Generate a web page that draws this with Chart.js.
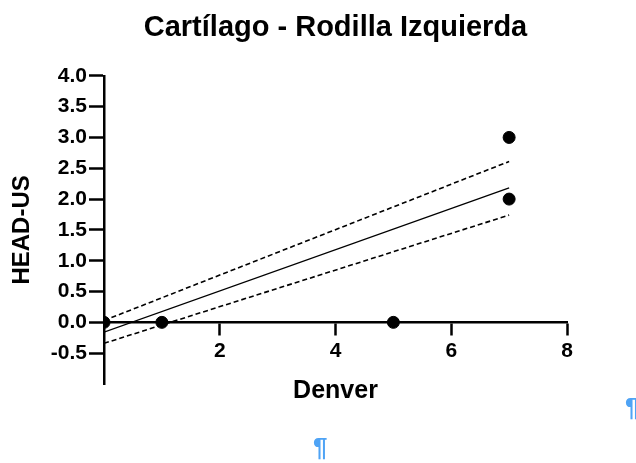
<!DOCTYPE html>
<html>
<head>
<meta charset="utf-8">
<script src="https://cdn.jsdelivr.net/npm/chart.js@4.4.1/dist/chart.umd.min.js"></script>
<style>
  html, body { margin: 0; padding: 0; background: #fff; overflow: hidden; }
  #wrap { position: relative; width: 636px; height: 463px; }
  .pil { position: absolute; color: #4ea3f5; font: bold 26px 'Liberation Sans', Arial, sans-serif; line-height: 1; }
</style>
</head>
<body>
<div id="wrap">
  <canvas id="myChart" width="636" height="463"></canvas>
  <span class="pil" style="left:625px;top:394px;">¶</span>
  <span class="pil" style="left:313px;top:434px;">¶</span>
</div>
<script>
'use strict';
const denver = [0, 1, 5, 7, 7];
const headUs = [0, 0, 0, 3, 2];
// fitted line and its dashed band, read at x=0 and x=7
const fitX = [0, 7];
const fitY = [-0.16, 2.18];
const upperY = [0.03, 2.61];
const lowerY = [-0.34, 1.74];
const xTicks = [0, 2, 4, 6, 8];
const yTicks = [-0.5, 0, 0.5, 1, 1.5, 2, 2.5, 3, 3.5, 4];

const font = 'Liberation Sans, Arial, sans-serif';

function pairs(xs, ys) {
  return xs.map((x, i) => ({ x: x, y: ys[i] }));
}

function lineSet(ys, dash, width) {
  return {
    type: 'line',
    data: pairs(fitX, ys),
    borderColor: '#000',
    borderWidth: width,
    borderDash: dash,
    pointRadius: 0,
    fill: false
  };
}

let ctx = document.getElementById('myChart').getContext('2d');
let chart = new Chart(ctx, {
  type: 'scatter',
  data: {
    datasets: [
      {
        data: pairs(denver, headUs),
        backgroundColor: '#000',
        borderColor: '#000',
        pointRadius: 6,
        pointBorderWidth: 1
      },
      lineSet(fitY, [], 1.3),
      lineSet(upperY, [5, 3], 1.6),
      lineSet(lowerY, [5, 3], 1.6)
    ]
  },
  options: {
    responsive: false,
    animation: false,
    layout: { padding: { left: 0, right: 69, top: 0, bottom: 79 } },
    plugins: {
      legend: { display: false },
      tooltip: { enabled: false },
      title: {
        display: true,
        fullSize: false,
        text: 'Cartílago - Rodilla Izquierda',
        color: '#000',
        font: { family: font, size: 29, weight: 'bold' },
        padding: { top: 11, bottom: 30 }
      }
    },
    scales: {
      x: {
        type: 'linear',
        position: { y: 0 },
        min: 0,
        max: 8,
        afterBuildTicks: s => { s.ticks = xTicks.filter(v => v !== 0).map(v => ({ value: v })); },
        ticks: {
          color: '#000',
          padding: 4,
          font: { family: font, size: 21, weight: 'bold' }
        },
        grid: { drawOnChartArea: false, tickLength: 12, tickWidth: 2.5, tickColor: '#000' },
        border: { display: true, color: '#000', width: 2.5 },
        title: {
          display: true,
          text: 'Denver',
          color: '#000',
          font: { family: font, size: 25, weight: 'bold' },
          padding: { top: 9, bottom: 0 }
        }
      },
      y: {
        type: 'linear',
        min: -1,
        max: 4,
        afterBuildTicks: s => { s.ticks = yTicks.map(v => ({ value: v })); },
        afterFit: s => { s.width = 104; },
        ticks: {
          color: '#000',
          padding: 2,
          font: { family: font, size: 21, weight: 'bold' },
          callback: v => v.toFixed(1)
        },
        grid: { drawOnChartArea: false, tickLength: 15, tickWidth: 2.5, tickColor: '#000' },
        border: { display: true, color: '#000', width: 2.5 },
        title: {
          display: true,
          text: 'HEAD-US',
          color: '#000',
          font: { family: font, size: 24, weight: 'bold' },
          padding: { top: 8, bottom: 0 }
        }
      }
    }
  }
});
</script>
</body>
</html>
